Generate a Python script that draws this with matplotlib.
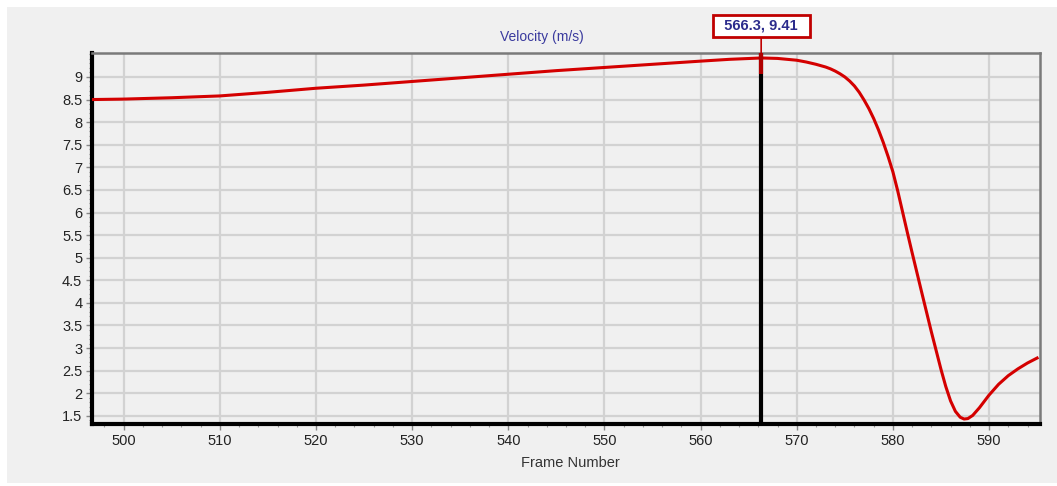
#!/usr/bin/env python3
"""Velocity vs frame number, with a cursor readout."""

from matplotlib import pyplot as plt
from matplotlib.patches import Rectangle
from matplotlib.ticker import FixedLocator, MultipleLocator
import numpy as np

# values
frames = [496.7, 500, 505, 510, 515, 520, 525, 530, 535, 540, 545, 550,
          555, 560, 563, 566.3, 568, 570, 571, 572, 573, 573.5, 574, 574.5,
          575, 575.5, 576, 576.5, 577, 577.5, 578, 578.5, 579, 579.5, 580,
          580.5, 581, 581.5, 582, 583, 584, 585, 585.5, 586, 586.5, 587,
          587.4, 587.8, 588.3, 589, 590, 591, 592, 593, 594, 595]
velocity = [8.50, 8.51, 8.54, 8.58, 8.66, 8.75, 8.82, 8.90, 8.98, 9.06,
            9.14, 9.21, 9.28, 9.35, 9.39, 9.42, 9.41, 9.37, 9.33, 9.28,
            9.22, 9.18, 9.13, 9.07, 9.00, 8.91, 8.80, 8.66, 8.49, 8.30,
            8.08, 7.83, 7.55, 7.24, 6.90, 6.48, 6.02, 5.56, 5.11, 4.23,
            3.36, 2.53, 2.15, 1.83, 1.60, 1.47, 1.43, 1.44, 1.51, 1.68,
            1.96, 2.20, 2.39, 2.54, 2.67, 2.78]
y_ticks = [1.5, 2, 2.5, 3, 3.5, 4, 4.5, 5, 5.5, 6, 6.5, 7, 7.5, 8, 8.5, 9]
cursor_frame = 566.3
cursor_value = 9.41

plt.rcParams["font.family"] = ["Liberation Sans", "DejaVu Sans"]

W, H = 1057, 486
fig = plt.figure(figsize=(W / 100, H / 100), dpi=100, facecolor="white")
# grey panel behind everything (white strip at top/left/bottom)
fig.patches.append(Rectangle((7 / W, 1 - 483 / H), 1, (483 - 7) / H,
                             transform=fig.transFigure, facecolor="#f0f0f0",
                             edgecolor="none", zorder=-10))

left, right, top, bottom = 92, 1040, 53, 424
ax = fig.add_axes([left / W, 1 - bottom / H, (right - left) / W,
                   (bottom - top) / H])
ax.set_facecolor("#f0f0f0")

ax.plot(frames, velocity, color="#d40000", lw=2.2, zorder=3)

ax.set_xlim(496.7, 595.3)
ax.set_ylim(1.32, 9.53)
ax.xaxis.set_major_locator(MultipleLocator(10))
ax.xaxis.set_minor_locator(MultipleLocator(2))
ax.yaxis.set_major_locator(FixedLocator(y_ticks))
ax.yaxis.set_minor_locator(FixedLocator(np.arange(1.4, 9.55, 0.1)))
ax.yaxis.set_major_formatter(lambda v, p: f"{v:g}")

ax.grid(True, which="major", color="#d2d2d2", lw=1.6, zorder=0)
ax.tick_params(which="major", length=4, width=1, color="#888888",
               labelsize=10.5, labelcolor="#222222", pad=3)
ax.tick_params(which="minor", length=2.5, width=0.8, color="#999999")

for side in ("left", "bottom"):
    ax.spines[side].set_linewidth(3)
    ax.spines[side].set_color("black")
for side in ("top", "right"):
    ax.spines[side].set_linewidth(1.8)
    ax.spines[side].set_color("#7a7a7a")

# cursor line and readout
ax.axvline(cursor_frame, color="black", lw=3, zorder=4)
ax.plot([cursor_frame, cursor_frame], [9.06, 9.53], color="#b00000",
        lw=3, zorder=5, solid_capstyle="butt")
ax.annotate(f"  {cursor_frame}, {cursor_value}  ",
            xy=(cursor_frame, 9.53), xycoords="data",
            xytext=(0, 19.5), textcoords="offset points",
            ha="center", va="center", fontsize=10.5, fontweight="bold",
            color="#2b2b8c", annotation_clip=False,
            bbox=dict(boxstyle="square,pad=0.25", fc="white",
                      ec="#c00000", lw=2),
            arrowprops=dict(arrowstyle="-", color="#c00000", lw=1.2,
                            shrinkA=0, shrinkB=0))

fig.text(542 / W, 1 - 37 / H, "Velocity (m/s)", ha="center", va="center",
         fontsize=10, color="#3a3a9e")
fig.text(570 / W, 1 - 463 / H, "Frame Number", ha="center", va="center",
         fontsize=10.5, color="#333333")

fig.savefig("out.png", dpi=100, facecolor=fig.get_facecolor())
